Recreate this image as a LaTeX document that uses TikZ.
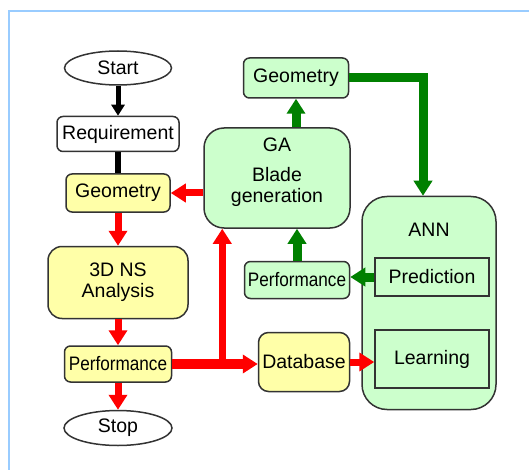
\documentclass[tikz,border=0pt]{standalone}
\usepackage{fontspec}
\setmainfont{Liberation Sans}
\usepackage{graphicx}
\usepackage{xcolor}
\usetikzlibrary{shapes.geometric, arrows.meta, positioning, calc}

\definecolor{boxyellow}{RGB}{255,255,168}
\definecolor{boxgreen}{RGB}{204,255,204}
\definecolor{flowgreen}{RGB}{0,128,0}
\definecolor{frameblue}{RGB}{153,204,255}

\begin{document}
\begin{tikzpicture}[
    x=1pt, y=1pt,
    font=\fontsize{19.5}{21}\selectfont,
    terminal/.style={ellipse, draw=black!80, fill=white, line width=1.5pt, minimum width=107pt, minimum height=34pt, inner sep=0pt},
    plainbox/.style={rectangle, rounded corners=6pt, draw=black!80, line width=1.5pt, inner sep=1pt, align=center},
    solver/.style={plainbox, fill=boxyellow},
    optim/.style={plainbox, fill=boxgreen},
    annpart/.style={rectangle, draw=black!80, line width=1.5pt, fill=boxgreen, minimum width=114pt},
    blackflow/.style={draw=black, line width=5pt, -{Triangle[width=13pt,length=11pt]}},
    redflow/.style={draw=red, line width=7pt, -{Triangle[width=18pt,length=15pt]}},
    greenflow/.style={draw=flowgreen, line width=9pt, -{Triangle[width=18pt,length=15pt]}}
]

% Frame
\useasboundingbox (0,0) rectangle (529,-470);
\draw[frameblue, line width=2.5pt] (9,-470) -- (9,-11) -- (529,-11);

% Flow chart
\node[terminal] (start) at (118,-68) {Start};
\node[plainbox, fill=white, minimum width=122pt, minimum height=35pt, below=30pt of start] (req) {Requirement};
\node[solver, minimum width=104pt, minimum height=38pt, below=21pt of req] (geo) {Geometry};
\node[solver, rounded corners=14pt, minimum width=140pt, minimum height=72pt, below=33pt of geo] (ns) {3D NS\\Analysis};
\node[solver, minimum width=107pt, minimum height=36pt, below=26pt of ns] (perf) {\scalebox{0.88}[1]{Performance}};
\node[terminal, minimum width=108pt, minimum height=35pt, below=27pt of perf] (stop) {Stop};

% GA
\node[optim, rounded corners=20pt, minimum width=146pt, minimum height=100pt] (ga) at (277,-178) {};
\node[align=center] (galabel) at ([yshift=6pt]ga.center) {GA\\[9pt]Blade\\generation};
\node[optim, minimum width=105pt, minimum height=40pt] (geotop) at (296,-78) {Geometry};
\node[optim, minimum width=105pt, minimum height=37pt] (perfann) at (297,-280) {\scalebox{0.88}[1]{Performance}};

% Database
\node[solver, rounded corners=10pt, minimum width=91pt, minimum height=59pt] (db) at (304,-362) {Database};

% ANN
\node[optim, rounded corners=25pt, minimum width=134pt, minimum height=213pt] (ann) at (429,-303) {};
\node (annlabel) at ([yshift=-34pt]ann.north) {ANN};
\node[annpart, minimum height=38pt] (pred) at (432,-277) {Prediction};
\node[annpart, minimum height=58pt] (learn) at (432,-359) {Learning};

% Arrows
\draw[blackflow] (start) -- (req);
\draw[black, line width=6pt] (req) -- (geo);
\draw[redflow] (ga.west |- geo.east) -- (geo.east);
\draw[redflow] (geo) -- (ns);
\draw[redflow] (ns) -- (perf);
\draw[redflow] (perf) -- (stop);
\draw[redflow, line width=10pt] (perf.east) -- (perf.east -| db.west);
\coordinate (split) at ([xshift=19pt]ga.west |- perf.east);
\draw[redflow] (split) -- (split |- ga.south);
\draw[greenflow] (ga.north -| geotop) -- (geotop);
\draw[greenflow] (geotop.east) -| ([xshift=-6pt]ann.north);
\draw[greenflow] (perfann) -- (perfann |- ga.south);
\draw[greenflow] (pred.west) -- (pred.west -| perfann.east);
\draw[redflow] (db.east) -- (db.east -| learn.west);

\end{tikzpicture}
\end{document}
